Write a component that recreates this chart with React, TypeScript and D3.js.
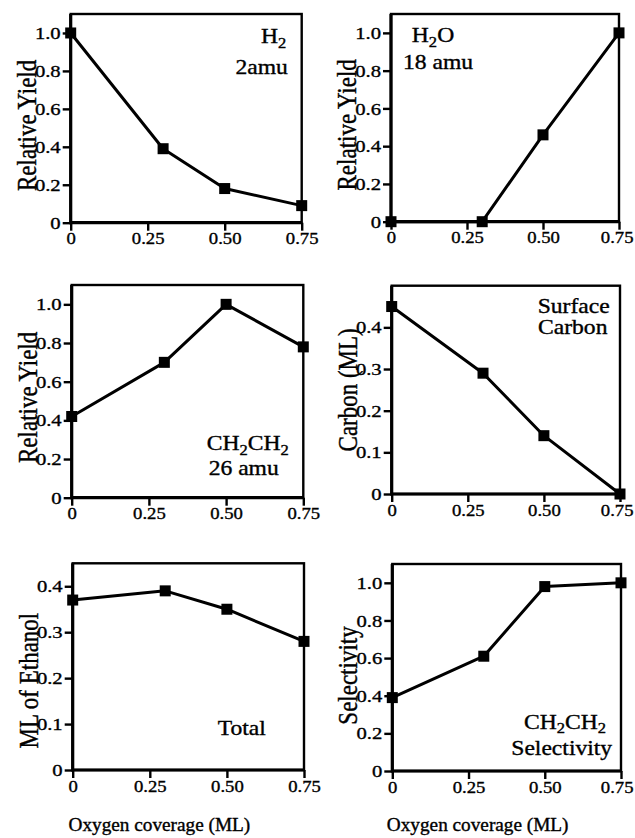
import React, { useEffect, useRef } from "react";
import * as d3 from "d3";

// oxygen precoverage (ML) at which each run was made
const coverage = [0, 0.3, 0.5, 0.75];

const h2Yield = [1.0, 0.39, 0.18, 0.09];
const h2oYield = [0, 0, 0.46, 1.0];
const ethyleneYield = [0.42, 0.7, 1.0, 0.78];
const surfaceCarbon = [0.45, 0.29, 0.14, 0.0];
const totalEthanol = [0.37, 0.39, 0.35, 0.28];
const ethyleneSelectivity = [0.39, 0.61, 0.98, 1.0];

const xTicks = [0, 0.25, 0.5, 0.75];
const xTickLabels = ["0", "0.25", "0.50", "0.75"];
const yieldTicks = [0, 0.2, 0.4, 0.6, 0.8, 1.0];
const yieldTickLabels = ["0", "0.2", "0.4", "0.6", "0.8", "1.0"];
const mlTicks = [0, 0.1, 0.2, 0.3, 0.4];
const mlTickLabels = ["0", "0.1", "0.2", "0.3", "0.4"];

const FONT = "'Liberation Serif', 'Times New Roman', serif";
const SX = 1.18; // glyphs in the scan are a bit wider than tall
const XSX = 1.1;
const INK = 0.35; // faint outline so the text looks as heavy as the scan

type Seg = [string, boolean?];
type Note = { dx: number; dy: number; segs: Seg[] };

const panels = [
  {
    values: h2Yield, yMax: 1.1, ticks: yieldTicks, labels: yieldTickLabels,
    yTitle: "Relative Yield", box: [70.7, 14, 301.7, 222.7], titleShift: 7,
    notes: [
      { dx: 203, dy: 29, segs: [["H"], ["2", true]] },
      { dx: 191, dy: 60, segs: [["2amu"]] },
    ] as Note[],
  },
  {
    values: h2oYield, yMax: 1.1, ticks: yieldTicks, labels: yieldTickLabels,
    yTitle: "Relative Yield", box: [391, 14, 619, 221.7], titleShift: 7,
    notes: [
      { dx: 42, dy: 28, segs: [["H"], ["2", true], ["O"]] },
      { dx: 47, dy: 55, segs: [["18 amu"]] },
    ] as Note[],
  },
  {
    values: ethyleneYield, yMax: 1.1, ticks: yieldTicks, labels: yieldTickLabels,
    yTitle: "Relative Yield", box: [71.7, 285, 303.3, 497.7], titleShift: 6,
    notes: [
      { dx: 176, dy: 165, segs: [["CH"], ["2", true], ["CH"], ["2", true]] },
      { dx: 172, dy: 190, segs: [["26 amu"]] },
    ] as Note[],
  },
  {
    values: surfaceCarbon, yMax: 0.5, ticks: mlTicks, labels: mlTickLabels,
    yTitle: "Carbon (ML)", box: [391.7, 285.7, 620, 494], titleShift: 0,
    notes: [
      { dx: 182, dy: 27.5, segs: [["Surface"]] },
      { dx: 181, dy: 48, segs: [["Carbon"]] },
    ] as Note[],
  },
  {
    values: totalEthanol, yMax: 0.45, ticks: mlTicks, labels: mlTickLabels,
    yTitle: "ML of Ethanol", box: [72.7, 563.3, 304, 770], titleShift: 14,
    notes: [{ dx: 169, dy: 171.7, segs: [["Total"]] }] as Note[],
  },
  {
    values: ethyleneSelectivity, yMax: 1.1, ticks: yieldTicks, labels: yieldTickLabels,
    yTitle: "Selectivity", box: [392.3, 564, 621, 771], titleShift: 8,
    notes: [
      { dx: 172.7, dy: 164.5, segs: [["CH"], ["2", true], ["CH"], ["2", true]] },
      { dx: 169.4, dy: 190.5, segs: [["Selectivity"]] },
    ] as Note[],
  },
];

export default function App() {
  const ref = useRef<SVGSVGElement>(null);

  useEffect(() => {
    if (!ref.current) return;
    const svg = d3.select(ref.current);
    svg.selectAll("*").remove();

    panels.forEach((p, pi) => {
      const [L, T, R, B] = p.box;
      const x = d3.scaleLinear().domain([0, 0.75]).range([L, R]);
      const y = d3.scaleLinear().domain([0, p.yMax]).range([B, T]);
      const g = svg.append("g");

      // y axis ticks
      const ya = g.append("g")
        .attr("transform", `translate(${L},0)`)
        .call(
          d3.axisLeft(y).tickValues(p.ticks)
            .tickFormat((_, i) => p.labels[i]).tickSize(8).tickPadding(0.5)
        );
      ya.select(".domain").remove();
      ya.attr("font-family", FONT).attr("font-size", 17.5);
      ya.selectAll("line").attr("stroke", "#000").attr("stroke-width", 2.4);
      ya.selectAll("text").attr("fill", "#000").attr("stroke", "#000")
        .attr("stroke-width", INK).attr("transform", `scale(${SX},1)`);

      // x axis ticks
      const xa = g.append("g")
        .attr("transform", `translate(0,${B})`)
        .call(
          d3.axisBottom(x).tickValues(xTicks)
            .tickFormat((_, i) => xTickLabels[i]).tickSize(8).tickPadding(1.6)
        );
      xa.select(".domain").remove();
      xa.attr("font-family", FONT).attr("font-size", 17);
      xa.selectAll("line").attr("stroke", "#000").attr("stroke-width", 2.4);
      xa.selectAll<SVGTextElement, number>("text")
        .attr("fill", "#000").attr("stroke", "#000").attr("stroke-width", INK)
        .attr("transform", `scale(${XSX},1)`)
        .each(function (d) {
          // keep the last label inside the page, as in the scan
          const half = (this.getComputedTextLength() * XSX) / 2;
          const over = x(d) + half - 633;
          if (over > 0) d3.select(this).attr("x", -over / XSX);
        });

      // frame
      g.append("rect")
        .attr("x", L).attr("y", T).attr("width", R - L).attr("height", B - T)
        .attr("fill", "none").attr("stroke", "#000").attr("stroke-width", 2.4);
      g.append("path")
        .attr("d", `M${L},${T}V${B}H${R}`)
        .attr("fill", "none").attr("stroke", "#000").attr("stroke-width", 3.2);

      // series
      const pts = coverage.map((c, i) => [c, p.values[i]] as [number, number]);
      g.append("path")
        .datum(pts)
        .attr("d", d3.line<[number, number]>().x((d) => x(d[0])).y((d) => y(d[1])))
        .attr("fill", "none").attr("stroke", "#000").attr("stroke-width", 3)
        .attr("stroke-linejoin", "round");
      g.selectAll("rect.mk").data(pts).join("rect")
        .attr("class", "mk")
        .attr("x", (d) => x(d[0]) - 5.5).attr("y", (d) => y(d[1]) - 5.5)
        .attr("width", 11).attr("height", 11).attr("fill", "#000");

      // y title
      g.append("text")
        .attr("transform", `translate(${L - 35},${(T + B) / 2 + p.titleShift}) scale(${SX},1) rotate(-90)`)
        .attr("text-anchor", "middle").attr("font-family", FONT).attr("font-size", 23)
        .attr("fill", "#000").attr("stroke", "#000").attr("stroke-width", INK)
        .text(p.yTitle);

      // annotations
      p.notes.forEach((n) => {
        const t = g.append("text")
          .attr("transform", `translate(${L + n.dx},${T + n.dy}) scale(${SX},1)`)
          .attr("text-anchor", "middle").attr("font-family", FONT).attr("font-size", 20)
          .attr("fill", "#000").attr("stroke", "#000").attr("stroke-width", INK);
        let low = false;
        n.segs.forEach(([s, sub]) => {
          const ts = t.append("tspan").text(s);
          if (sub && !low) { ts.attr("font-size", 14).attr("dy", 4.5); low = true; }
          else if (!sub && low) { ts.attr("dy", -4.5); low = false; }
        });
      });

      // x title only on the bottom row
      if (pi >= 4) {
        g.append("text")
          .attr("transform", `translate(${(L - 58 + R) / 2},831) scale(1.07,1)`)
          .attr("text-anchor", "middle").attr("font-family", FONT).attr("font-size", 18)
          .attr("fill", "#000").attr("stroke", "#000").attr("stroke-width", INK)
          .text("Oxygen coverage (ML)");
      }
    });
  }, []);

  return (
    <svg
      ref={ref}
      width={635}
      height={838}
      style={{ position: "absolute", left: 0, top: 0, background: "#fff" }}
    />
  );
}
